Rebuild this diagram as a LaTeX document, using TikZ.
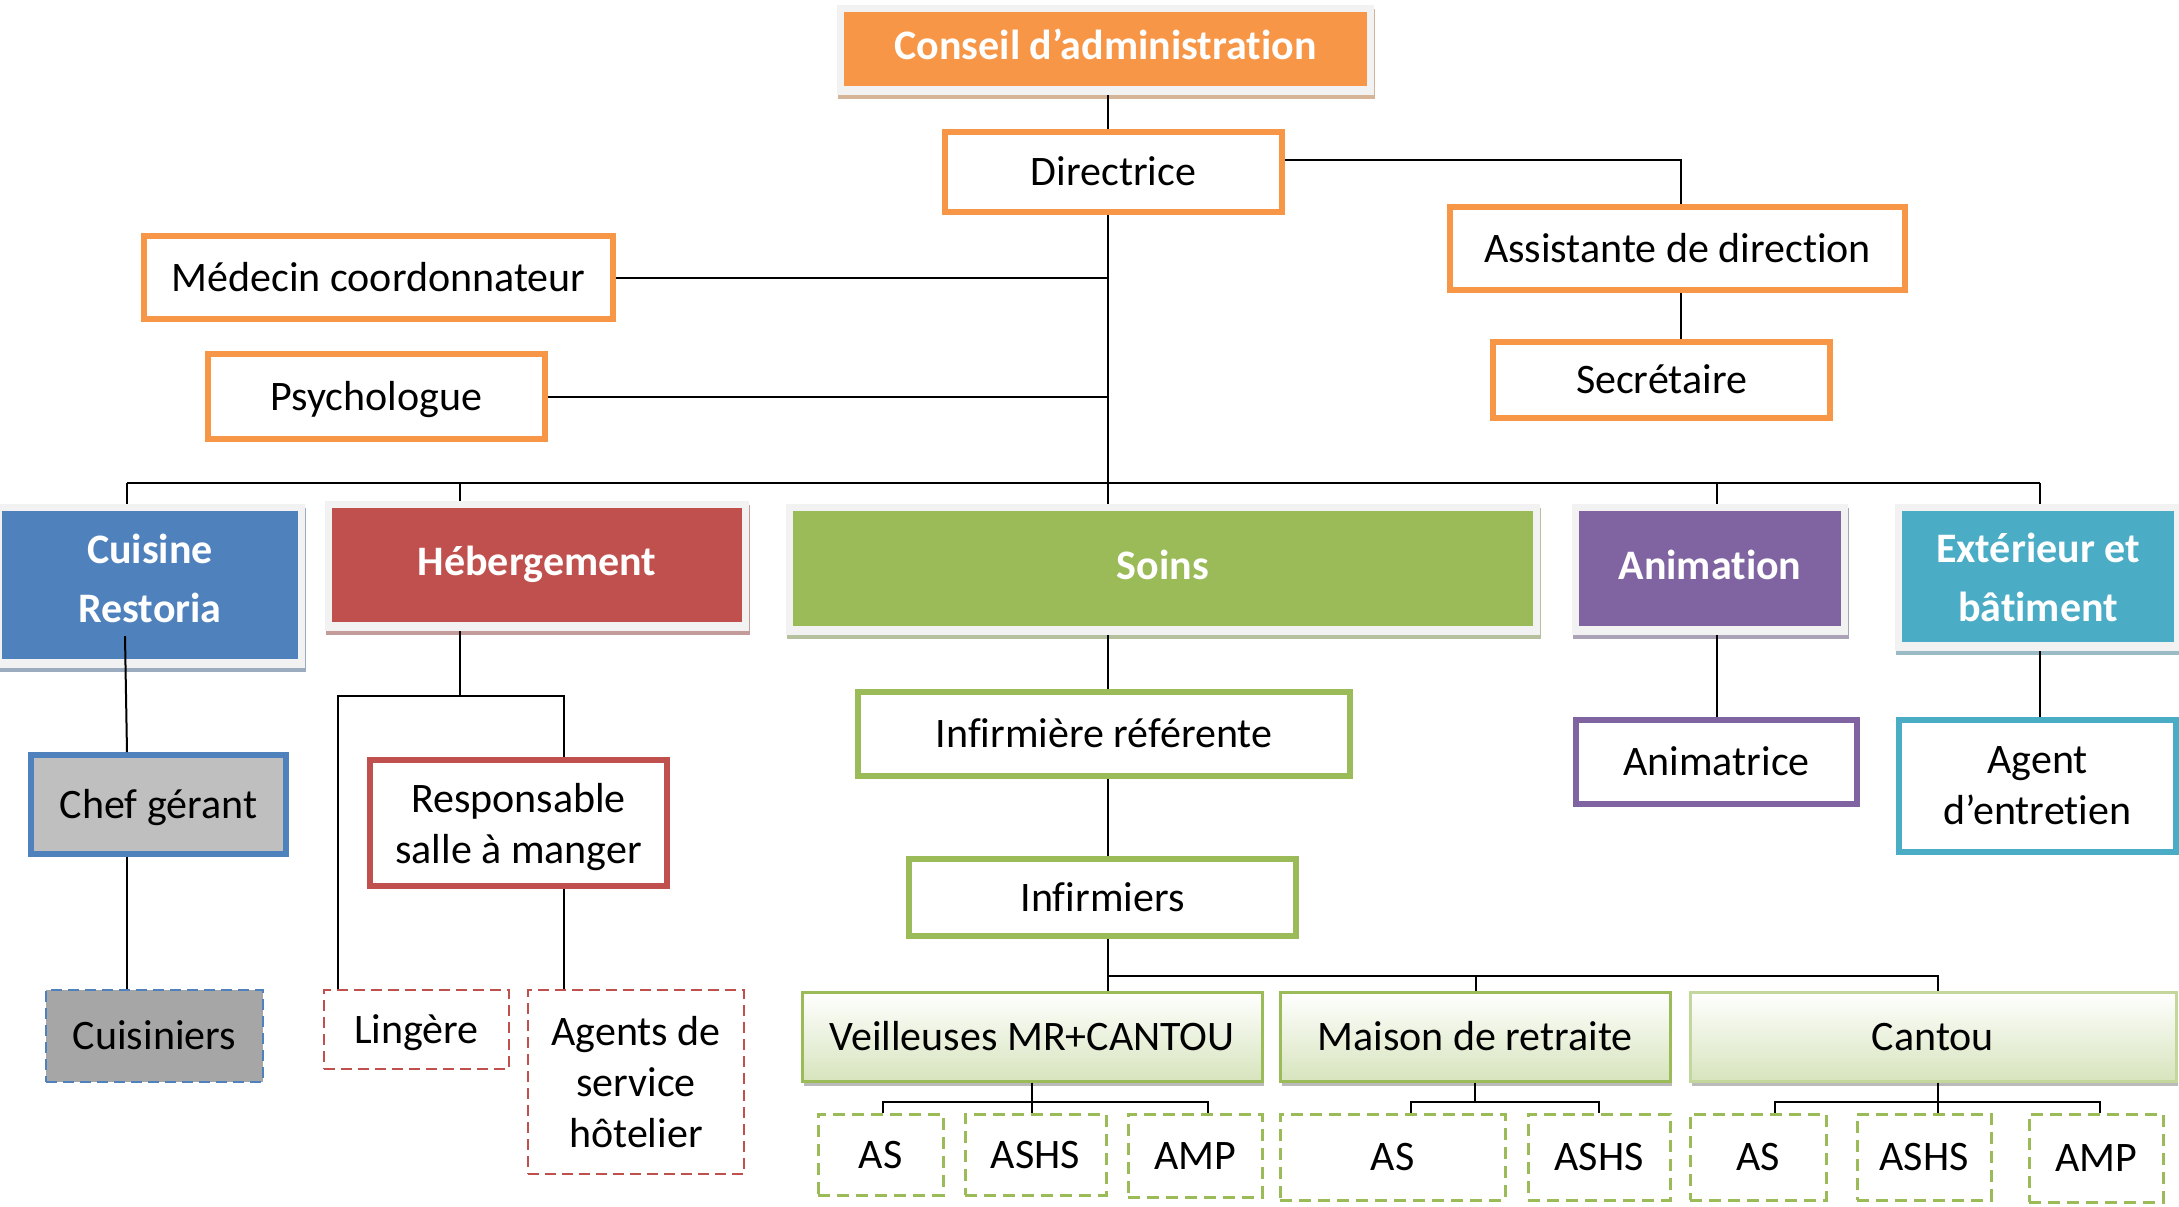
\documentclass[tikz,border=0pt]{standalone}
\usepackage{fontspec}
\setmainfont{Carlito}[Ligatures=NoCommon]
\usetikzlibrary{shadows}
\definecolor{orgorange}{HTML}{F79646}
\definecolor{orgblue}{HTML}{4F81BD}
\definecolor{orgred}{HTML}{C0504D}
\definecolor{orggreen}{HTML}{9BBB59}
\definecolor{orgpurple}{HTML}{8064A2}
\definecolor{orgteal}{HTML}{4BACC6}
\definecolor{orglight}{HTML}{D7E4BD}
\definecolor{orgpale}{HTML}{C3D69B}

\begin{document}
\begin{tikzpicture}[
    x=.5pt,
    y=-.5pt,
    every node/.style={
      inner sep=0,
      align=center,
      font=\fontsize{21}{25.5}\selectfont,
      text height=13.5pt,
      text depth=0pt,
    },
    multi/.style={
      text height=,
      text depth=,
    },
    link/.style={
      line width=1pt,
    },
    dept/.style={
      fill=black!5,
      text=white,
      text depth=4pt,
      font=\fontsize{21}{29.5}\selectfont\bfseries,
      path picture={\fill[#1] ([shift={(3.5pt,4.5pt)}]path picture bounding box.south west)
        rectangle ([shift={(-3.5pt,-3.5pt)}]path picture bounding box.north east);},
      drop shadow={shadow xshift=.5pt, shadow yshift=-2pt, fill=#1!70!black, opacity=.5},
    },
    post/.style={
      draw=#1,
      line width=3pt,
      fill=white,
    },
    team/.style={
      draw=#1,
      line width=1.5pt,
      top color=white,
      bottom color=orglight,
      drop shadow={shadow xshift=1pt, shadow yshift=-2.5pt, fill=black!45, opacity=.6},
    },
    dashbox/.style={
      draw=#1,
      line width=1pt,
      dash pattern=on 5.5pt off 3pt,
      fill=white,
    },
    subbox/.style={
      draw=orggreen,
      line width=1.5pt,
      dash pattern=on 6pt off 3.5pt,
      fill=white,
    },
  ]
    \newcommand\orgbox[7]{%
      \node[#1, minimum width={(#5-(#3))*.5pt}, minimum height={(#6-(#4))*.5pt}]
        (#2) at ({(#3+#5)/2}, {(#4+#6)/2}) {#7};
    }

    \useasboundingbox (0,0) rectangle (2179,1206);

    % direction
    \orgbox{dept=orgorange}{cons}{837}{5}{1374}{95}{Conseil d’administration}
    \orgbox{post=orgorange}{dir}{945}{132}{1282}{212}{Directrice}
    \orgbox{post=orgorange}{med}{144}{236}{613}{319}{Médecin coordonnateur}
    \orgbox{post=orgorange}{psy}{208}{354}{545}{439}{Psychologue}
    \orgbox{post=orgorange}{asst}{1450}{207}{1905}{290}{Assistante de direction}
    \orgbox{post=orgorange}{sec}{1493}{342}{1830}{418}{Secrétaire}

    % services
    \orgbox{dept=orgblue,multi}{cuis}{-5}{504}{305}{668}{Cuisine\\Restoria\rule[-8pt]{0pt}{8pt}}
    \orgbox{dept=orgred}{heb}{325}{501}{749}{631}{Hébergement}
    \orgbox{dept=orggreen}{soins}{786}{504}{1540}{635}{Soins}
    \orgbox{dept=orgpurple}{anim}{1572}{504}{1848}{635}{Animation}
    \orgbox{dept=orgteal,multi}{ext}{1895}{504}{2181}{651}{Extérieur et\\bâtiment}

    % cuisine
    \orgbox{post=orgblue,fill=black!25}{chef}{31}{755}{286}{854}{Chef gérant}
    \orgbox{dashbox=orgblue,fill=black!35}{cuisi}{46}{990}{263}{1082}{Cuisiniers}

    % hebergement
    \orgbox{post=orgred,multi}{resp}{370}{760}{667}{886}{\rule{0pt}{19pt}Responsable\\salle à manger}
    \orgbox{dashbox=orgred}{ling}{324}{990}{509}{1069}{Lingère}
    \orgbox{dashbox=orgred,multi}{agents}{528}{990}{744}{1174}{Agents de\\service\\hôtelier}

    % soins
    \orgbox{post=orggreen}{infref}{858}{692}{1350}{776}{Infirmière référente}
    \orgbox{post=orggreen}{infs}{909}{859}{1296}{936}{Infirmiers}
    \orgbox{team=orggreen}{veil}{802}{992}{1262}{1081}{Veilleuses MR+CANTOU}
    \orgbox{team=orggreen}{mais}{1280}{992}{1670}{1081}{Maison de retraite}
    \orgbox{team=orgpale}{cant}{1690}{992}{2176}{1081}{Cantou}
    \orgbox{subbox}{as1}{818}{1114}{943}{1195}{AS}
    \orgbox{subbox}{ashs1}{965}{1114}{1106}{1195}{ASHS}
    \orgbox{subbox}{amp1}{1128}{1114}{1262}{1197}{AMP}
    \orgbox{subbox}{as2}{1280}{1114}{1505}{1200}{AS}
    \orgbox{subbox}{ashs2}{1528}{1114}{1670}{1200}{ASHS}
    \orgbox{subbox}{as3}{1690}{1114}{1826}{1200}{AS}
    \orgbox{subbox}{ashs3}{1857}{1114}{1991}{1200}{ASHS}
    \orgbox{subbox}{amp3}{2029}{1114}{2163}{1202}{AMP}

    % animation, exterieur
    \orgbox{post=orgpurple}{animr}{1576}{720}{1857}{804}{Animatrice}
    \orgbox{post=orgteal,multi}{agent}{1899}{720}{2176}{852}{Agent\\d’entretien}

    % links
    \coordinate (spine) at (1108,483);
    \coordinate (atap) at (1681,160);
    \coordinate (bcuis) at (127,483);
    \coordinate (ctap) at (125,636);
    \coordinate (bheb) at (460,483);
    \coordinate (banim) at (1717,483);
    \coordinate (bext) at (2040,483);

    \draw[link] (cons.south -| spine) -- (dir.north -| spine);
    \draw[link] (dir.south -| spine) -- (soins.north -| spine);
    \draw[link] (med.east) -- (med.east -| spine);
    \draw[link] (psy.east) -- (psy.east -| spine);
    \draw[link] (dir.east |- atap) -- (atap) -- (atap |- asst.north);
    \draw[link] (atap |- asst.south) -- (atap |- sec.north);

    \draw[link] (bcuis) -- (bext);
    \draw[link] (bcuis) -- (bcuis |- cuis.north);
    \draw[link] (bheb) -- (bheb |- heb.north);
    \draw[link] (banim) -- (banim |- anim.north);
    \draw[link] (bext) -- (bext |- ext.north);

    \draw[link] (ctap) -- (bcuis |- chef.north);
    \draw[link] (bcuis |- chef.south) -- (bcuis |- cuisi.north);

    \coordinate (hsplit) at (460,696);
    \coordinate (hl) at (338,696);
    \coordinate (hr) at (564,696);
    \draw[link] (bheb |- heb.south) -- (hsplit);
    \draw[link] (hl |- ling.north) -- (hl) -- (hr) -- (hr |- resp.north);
    \draw[link] (hr |- resp.south) -- (hr |- agents.north);

    \draw[link] (spine |- soins.south) -- (spine |- infref.north);
    \draw[link] (spine |- infref.south) -- (spine |- infs.north);
    \coordinate (nbus) at (1108,976);
    \coordinate (nbusm) at (1476,976);
    \coordinate (nbusr) at (1938,976);
    \draw[link] (spine |- infs.south) -- (nbus) -- (nbusr) -- (nbusr |- cant.north);
    \draw[link] (nbus) -- (nbus |- veil.north);
    \draw[link] (nbusm) -- (nbusm |- mais.north);

    \coordinate (vb1) at (883,1102);
    \coordinate (vb2) at (1032,1102);
    \coordinate (vb3) at (1208,1102);
    \draw[link] (vb2 |- veil.south) -- (vb2 |- ashs1.north);
    \draw[link] (vb1 |- as1.north) -- (vb1) -- (vb3) -- (vb3 |- amp1.north);

    \coordinate (mb1) at (1411,1102);
    \coordinate (mb2) at (1599,1102);
    \draw[link] (mais.south) -- (mais.south |- mb1);
    \draw[link] (mb1 |- as2.north) -- (mb1) -- (mb2) -- (mb2 |- ashs2.north);

    \coordinate (cb1) at (1775,1102);
    \coordinate (cb2) at (1938,1102);
    \coordinate (cb3) at (2100,1102);
    \draw[link] (cb2 |- cant.south) -- (cb2 |- ashs3.north);
    \draw[link] (cb1 |- as3.north) -- (cb1) -- (cb3) -- (cb3 |- amp3.north);

    \draw[link] (banim |- anim.south) -- (banim |- animr.north);
    \draw[link] (bext |- ext.south) -- (bext |- agent.north);
  \end{tikzpicture}
\end{document}
